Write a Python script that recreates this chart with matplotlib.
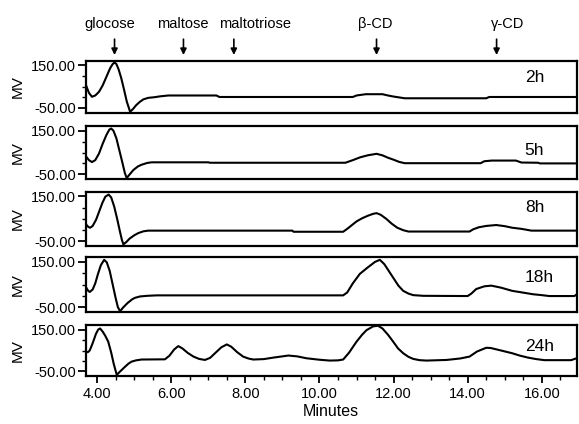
import matplotlib
matplotlib.use("Agg")
import matplotlib.pyplot as plt
from matplotlib.ticker import MultipleLocator, FixedLocator

plt.rcParams['font.family'] = ['Liberation Sans', 'DejaVu Sans']

# ---- data (minutes, mV) ----
t_2h = [3.70, 3.78, 3.86, 3.95, 4.05, 4.15, 4.25, 4.35, 4.42, 4.47, 4.52, 4.58, 4.65, 4.72, 4.80, 4.89,
        4.97, 5.05, 5.15, 5.25, 5.38, 5.55, 5.70, 5.92, 7.22, 7.30, 10.90, 11.00, 11.25, 11.70, 11.85,
        12.00, 12.30, 14.50, 14.58, 16.94]
v_2h = [56, 20, 2, 8, 25, 55, 95, 135, 155, 162, 155, 130, 90, 40, -20, -68,
        -55, -38, -22, -10, -3, 0, 4, 8, 8, 1, 1, 8, 14, 14, 8,
        3, -5, -5, 1, 1]

t_5h = [3.70, 3.78, 3.86, 3.95, 4.05, 4.15, 4.25, 4.33, 4.38, 4.44, 4.52, 4.60, 4.68, 4.75, 4.80, 4.88,
        4.98, 5.10, 5.20, 5.35, 5.47, 7.00, 7.05, 10.70, 10.90, 11.10, 11.30, 11.54, 11.70, 11.85,
        12.00, 12.15, 12.30, 14.35, 14.45, 14.65, 15.30, 15.45, 15.90, 15.95, 16.94]
v_5h = [32, 15, 6, 15, 45, 90, 130, 155, 160, 150, 115, 60, 5, -45, -67, -50,
        -30, -14, -6, 2, 5, 5, 3, 3, 15, 28, 37, 44, 37, 26,
        17, 7, 1, 1, 10, 13, 13, 4, 3, 0, 0]

t_8h = [3.70, 3.76, 3.81, 3.88, 3.97, 4.05, 4.14, 4.22, 4.31, 4.38, 4.46, 4.54, 4.62, 4.67, 4.71, 4.78,
        4.88, 5.00, 5.11, 5.25, 5.38, 9.27, 9.30, 10.64, 10.75, 10.90, 11.00, 11.15, 11.30, 11.45,
        11.54, 11.65, 11.80, 11.95, 12.10, 12.26, 12.40, 14.05, 14.15, 14.30, 14.50, 14.77, 15.00,
        15.20, 15.45, 15.72, 16.94]
v_8h = [25, 14, 10, 18, 45, 80, 120, 148, 158, 145, 105, 50, -10, -45, -64, -55,
        -38, -24, -14, -6, -3, -3, -8, -8, 5, 25, 38, 52, 63, 72,
        75, 68, 50, 28, 10, -1, -7, -7, 3, 12, 18, 22, 17,
        10, 5, -3, -3]

t_18h = [3.70, 3.76, 3.80, 3.88, 3.95, 4.02, 4.10, 4.19, 4.26, 4.34, 4.42, 4.50, 4.56, 4.62, 4.70, 4.82,
         4.95, 5.02, 5.15, 5.35, 5.61, 10.64, 10.75, 10.90, 11.09, 11.30, 11.50, 11.63, 11.75, 11.87,
         11.99, 12.13, 12.26, 12.40, 12.53, 12.80, 14.00, 14.10, 14.23, 14.45, 14.64, 14.90, 15.20,
         15.50, 15.76, 16.00, 16.20, 16.88, 16.94]
v_18h = [38, 22, 17, 28, 55, 95, 135, 159, 148, 110, 50, -10, -50, -68, -52, -32,
         -15, -9, -3, 0, 2, 2, 15, 55, 97, 125, 150, 159, 140, 110,
         80, 45, 22, 10, 3, 0, -1, 10, 30, 42, 45, 36, 22,
         14, 7, 3, -1, -1, 6]

t_24h = [3.70, 3.75, 3.80, 3.88, 3.97, 4.03, 4.08, 4.15, 4.22, 4.30, 4.38, 4.45, 4.53, 4.62, 4.75, 4.85,
         4.93, 5.05, 5.20, 5.83, 5.95, 6.08, 6.19, 6.30, 6.45, 6.60, 6.75, 6.91, 7.05, 7.20, 7.35,
         7.50, 7.62, 7.78, 7.94, 8.08, 8.21, 8.50, 8.75, 9.16, 9.40, 9.65, 10.00, 10.28, 10.50, 10.64,
         10.80, 11.00, 11.15, 11.27, 11.45, 11.58, 11.70, 11.85, 11.99, 12.12, 12.26, 12.40, 12.53,
         12.70, 12.89, 13.43, 13.80, 14.05, 14.25, 14.50, 14.62, 14.90, 15.20, 15.40, 15.63, 15.85,
         16.07, 16.79, 16.94]
v_24h = [44, 42, 50, 85, 130, 150, 155, 140, 120, 92, 40, -15, -66, -50, -28, -12,
         -3, 3, 7, 8, 25, 55, 71, 60, 38, 21, 10, 5, 15, 40, 65,
         79, 68, 42, 21, 12, 7, 9, 16, 26, 22, 13, 6, 2, 3, 7,
         40, 92, 125, 147, 165, 168, 155, 125, 92, 60, 37, 20, 10,
         4, 2, 5, 12, 21, 45, 63, 62, 50, 37, 26, 16, 9,
         4, 4, 13]

series_t = [t_2h, t_5h, t_8h, t_18h, t_24h]
series_v = [v_2h, v_5h, v_8h, v_18h, v_24h]
panel_labels = ['2h', '5h', '8h', '18h', '24h']
label_y = [94, 58, 102, 79, 67]

peak_names = ['glocose', 'maltose', 'maltotriose', 'β-CD', 'γ-CD']
peak_arrow_t = [4.47, 6.33, 7.69, 11.54, 14.78]
peak_text_t = [4.34, 6.31, 8.26, 11.50, 15.07]

ytick_vals = [-50, 150]
ytick_labels = ['-50.00', '150.00']
xtick_vals = [4, 6, 8, 10, 12, 14, 16]
xtick_labels = ['4.00', '6.00', '8.00', '10.00', '12.00', '14.00', '16.00']

# ---- layout ----
W, H = 579, 424
fig = plt.figure(figsize=(W / 100, H / 100), dpi=100)
left_px, right_px = 86, 577
panels_px = [(60.5, 112.5), (126, 179), (191.5, 246), (257, 312), (325, 376)]

axes = []
for i, (top, bot) in enumerate(panels_px):
    ax = fig.add_axes([left_px / W, 1 - bot / H, (right_px - left_px) / W, (bot - top) / H])
    ax.plot(series_t[i], series_v[i], color='black', lw=1.5)
    ax.set_xlim(3.70, 16.95)
    ax.set_ylim(-71.5, 171.5)
    for sp in ax.spines.values():
        sp.set_linewidth(1.6)
    ax.yaxis.set_major_locator(FixedLocator(ytick_vals))
    ax.set_yticklabels(ytick_labels)
    ax.yaxis.set_minor_locator(MultipleLocator(50))
    ax.tick_params(axis='y', which='major', direction='out', length=6, width=1.3, pad=1,
                   labelsize=10.5, colors='black')
    ax.tick_params(axis='y', which='minor', direction='out', length=3, width=1.0)
    if i < 4:
        ax.set_xticks([])
    else:
        ax.set_xticks(xtick_vals)
        ax.set_xticklabels(xtick_labels)
        ax.xaxis.set_minor_locator(MultipleLocator(0.5))
        ax.tick_params(axis='x', which='major', direction='out', length=5, width=1.3, pad=3,
                       labelsize=10.5)
        ax.tick_params(axis='x', which='minor', direction='out', length=3, width=1.0)
    ax.text(15.54, label_y[i], panel_labels[i], fontsize=12.5, ha='left', va='center')
    cy = 1 - (top + bot) / 2 / H
    fig.text(18 / W, cy, 'MV', rotation=90, ha='center', va='center', fontsize=11)
    axes.append(ax)

ax1 = axes[0]
trans = ax1.get_xaxis_transform()
for name, ta, tt in zip(peak_names, peak_arrow_t, peak_text_t):
    ax1.annotate('', xy=(ta, 1.106), xycoords=trans, xytext=(ta, 1.41), textcoords=trans,
                 arrowprops=dict(arrowstyle='-|>', color='black', lw=1.2, mutation_scale=9,
                                 shrinkA=0, shrinkB=0), annotation_clip=False)
    ax1.text(tt, 1.70, name, transform=trans, ha='center', va='center', fontsize=10.5)

fig.text(331 / W, 1 - 411 / H, 'Minutes', ha='center', va='center', fontsize=11.5)

fig.savefig('out.png', dpi=100)
